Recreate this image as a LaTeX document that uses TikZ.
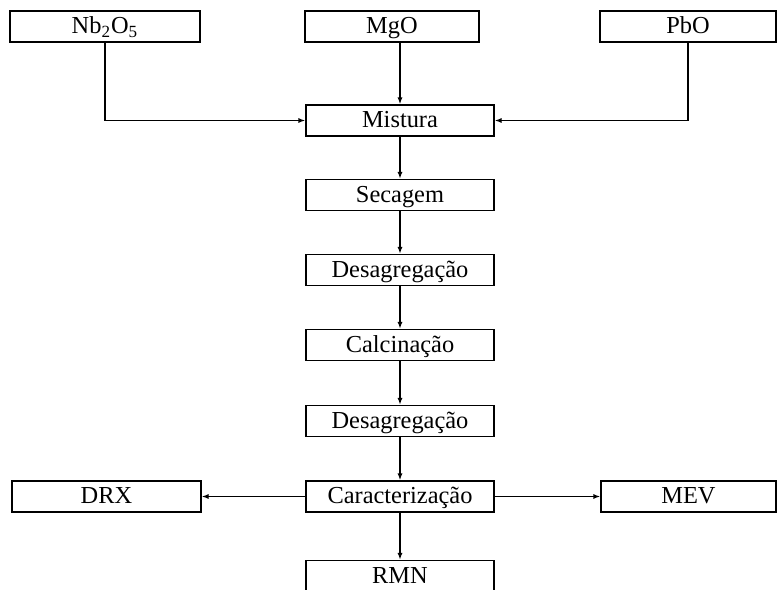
\documentclass[tikz,border=0pt]{standalone}
\usepackage{fontspec}
\setmainfont{Liberation Serif}
\usepackage{tikz}
\usetikzlibrary{arrows.meta,positioning}

\begin{document}
\begin{tikzpicture}[x=0.5pt,y=-0.5pt,
    etapa/.style={draw,line width=0.7pt,minimum width=94pt,minimum height=15.5pt,
      inner sep=0pt,text height=9.3pt,text depth=2pt,
      font=\fontsize{12.2}{13}\selectfont},
    liga/.style={line width=0.7pt},
    seta/.style={liga,-{Latex[length=3.5pt,width=2.6pt]}}]
  \clip (0,0) rectangle (778,590);
  % materias-primas
  \node[etapa,minimum width=95pt] (nb) at (105,26.5) {Nb\textsubscript{2}O\textsubscript{5}};
  \node[etapa,minimum width=87pt] (mgo) at (392,26.5) {MgO};
  \node[etapa,minimum width=88pt] (pbo) at (688,26.5) {PbO};
  % etapas do processo
  \node[etapa] (mist) at (400,120.5) {Mistura};
  \foreach \nome/\y/\txt in {
    sec/195/Secagem,
    desa/270/Desagregação,
    calc/345/Calcinação,
    desb/421/Desagregação,
    carac/496.5/Caracterização,
    rmn/576/RMN} {
    \node[etapa] (\nome) at (400,\y) {\txt};
  }
  \node[etapa,minimum width=94.5pt] (drx) at (106.5,496.5) {DRX};
  \node[etapa,minimum width=87.5pt] (mev) at (688.5,496.5) {MEV};
  % ligacoes
  \draw[seta] (nb.south) |- (mist.west);
  \draw[seta] (pbo.south) |- (mist.east);
  \draw[seta] (mgo.south -| mist.north) -- (mist.north);
  \foreach \a/\b in {mist/sec,sec/desa,desa/calc,calc/desb,desb/carac,carac/rmn}
    \draw[seta] (\a) -- (\b);
  \draw[seta] (carac) -- (drx);
  \draw[seta] (carac) -- (mev);
\end{tikzpicture}
\end{document}
